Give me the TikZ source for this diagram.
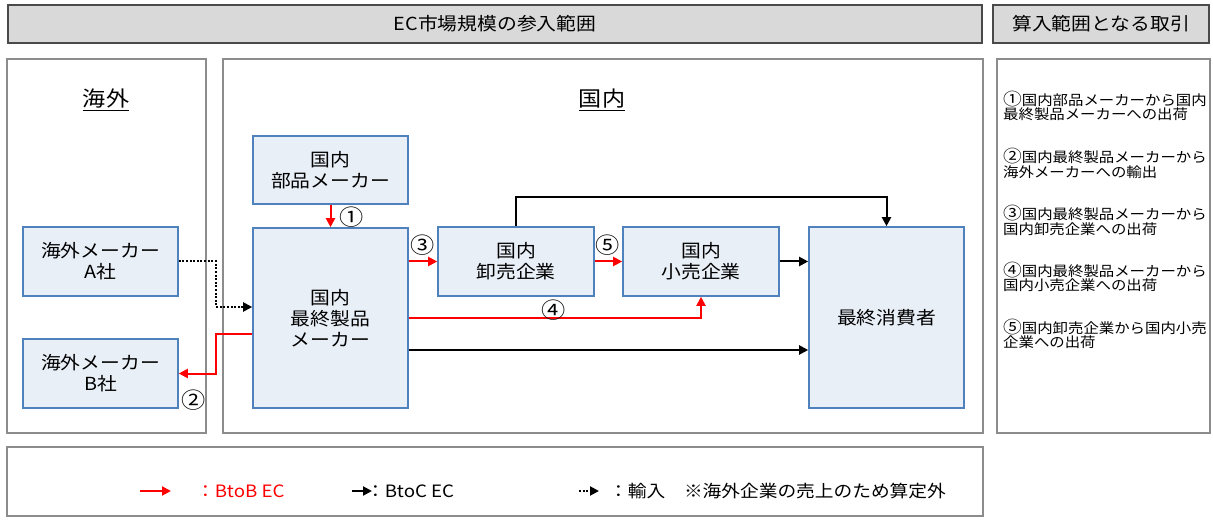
\documentclass[tikz,border=0pt]{standalone}
\usepackage{fontspec}
\setmainfont{Noto Sans CJK JP}[FakeStretch=1.1]
\usetikzlibrary{arrows.meta,calc}
\definecolor{boxfill}{HTML}{E9EFF7}
\definecolor{boxline}{HTML}{4F81BD}
\definecolor{outline}{HTML}{8C8C8C}
\definecolor{hdrfill}{HTML}{D9D9D9}
\definecolor{hdrline}{HTML}{4A4A4A}
\definecolor{redline}{HTML}{FF0000}
\newcommand{\cnum}[1]{{\fontsize{17}{14.5}\selectfont #1}}
\tikzset{
  ent/.style={draw=boxline,fill=boxfill,line width=1.6pt,align=center,inner sep=0pt,
    font=\fontsize{18}{21}\selectfont},
  area/.style={draw=outline,line width=1.8pt,inner sep=0pt},
  hdr/.style={draw=hdrline,fill=hdrfill,line width=1.6pt,inner sep=0pt,font=\fontsize{18}{21}\selectfont},
  btob/.style={draw=redline,line width=2pt,-{Triangle[length=9pt,width=9pt]}},
  btoc/.style={draw=black,line width=2pt,-{Triangle[length=9pt,width=9pt]}},
  imp/.style={draw=black,line width=2pt,dash pattern=on 2pt off 1.6pt,-{Triangle[length=9pt,width=9pt]}},
  num/.style={inner sep=0pt,font=\fontsize{22}{22}\selectfont},
  note/.style={anchor=west,align=left,inner sep=0pt,font=\fontsize{14}{14.5}\selectfont},
  leg/.style={anchor=west,inner sep=0pt,font=\fontsize{17}{17}\selectfont},
}
\begin{document}
\begin{tikzpicture}[x=1pt,y=-1pt]
\useasboundingbox (0,0) rectangle (1213,521);
% headers
\node[hdr,minimum width=974pt,minimum height=38pt] (h1) at (495,24) {EC市場規模の参入範囲};
\node[hdr,minimum width=216pt,minimum height=38pt] (h2) at (1101,24) {算入範囲となる取引};
% areas
\node[area,minimum width=199pt,minimum height=374pt] (kaigai) at (106.5,246) {};
\node[area,minimum width=760pt,minimum height=374pt] (kokunai) at (603,246) {};
\node[area,minimum width=213pt,minimum height=374pt] (torihiki) at (1103.5,246) {};
\node[area,minimum width=976pt,minimum height=69pt] (legend) at (495,481.5) {};
% titles
\node[inner sep=0pt,font=\fontsize{21}{21}\selectfont] (t1) at (106,100) {\underline{海外}};
\node[inner sep=0pt,font=\fontsize{21}{21}\selectfont] (t2) at (602,100) {\underline{国内}};
% entities
\node[ent,minimum width=155pt,minimum height=68pt] (buhin) at (330.5,170) {国内\\部品メーカー};
\node[ent,minimum width=155pt,minimum height=180pt] (saishu) at (330.5,318) {国内\\最終製品\\メーカー};
\node[ent,minimum width=155pt,minimum height=69pt] (A) at (100.5,261.5) {海外メーカー\\A社};
\node[ent,minimum width=155pt,minimum height=69pt] (B) at (100.5,373.5) {海外メーカー\\B社};
\node[ent,minimum width=156pt,minimum height=69pt] (oroshi) at (516,261.5) {国内\\卸売企業};
\node[ent,minimum width=156pt,minimum height=69pt] (kouri) at (701,261.5) {国内\\小売企業};
\node[ent,minimum width=155pt,minimum height=181pt] (cons) at (886.5,317.5) {最終消費者};
% helper coordinates
\coordinate (y350) at (600,350);
\coordinate (dot) at (216,307);
\coordinate (r2) at (216,334);
% connectors
\draw[btob] (buhin.south) -- (saishu.north);
\draw[btob] (saishu.east |- oroshi.west) -- (oroshi.west);
\draw[btob] (oroshi.east) -- (kouri.west);
\draw[btob] (saishu.east) -| (kouri.south);
\draw[btoc] (kouri.east) -- (kouri.east -| cons.west);
\draw[btoc] (saishu.east |- y350) -- (cons.west |- y350);
\draw[btoc] (oroshi.north) -- ++(0,-29) -| (cons.north);
\draw[imp] (A.east) -| (dot) -- (dot -| saishu.west);
\draw[btob] (r2 -| saishu.west) -- (r2) |- (B.east);
% numbers
\node[num] (n1) at (352,217) {①};
\node[num] (n2) at (194,400) {②};
\node[num] (n3) at (423,245) {③};
\node[num] (n4) at (554,310) {④};
\node[num] (n5) at (608,245) {⑤};
% notes
\node[note] (m1) at (1003,106) {\cnum{①}国内部品メーカーから国内\\最終製品メーカーへの出荷};
\node[note] (m2) at (1003,163.5) {\cnum{②}国内最終製品メーカーから\\海外メーカーへの輸出};
\node[note] (m3) at (1003,220.5) {\cnum{③}国内最終製品メーカーから\\国内卸売企業への出荷};
\node[note] (m4) at (1003,277) {\cnum{④}国内最終製品メーカーから\\国内小売企業への出荷};
\node[note] (m5) at (1003,334) {\cnum{⑤}国内卸売企業から国内小売\\企業への出荷};
% legend
\coordinate (la1) at (140,491); \coordinate (la2) at (171,491);
\coordinate (lb1) at (352,491); \coordinate (lb2) at (372,491);
\coordinate (lc1) at (579,491); \coordinate (lc2) at (599,491);
\draw[btob] (la1) -- (la2);
\draw[btoc] (lb1) -- (lb2);
\draw[imp] (lc1) -- (lc2);
\node[leg,text=redline] (g1) at (196,491) {：BtoB EC};
\node[leg] (g2) at (366,491) {：BtoC EC};
\node[leg] (g3) at (609,491) {：輸入　※海外企業の売上のため算定外};
\end{tikzpicture}
\end{document}
